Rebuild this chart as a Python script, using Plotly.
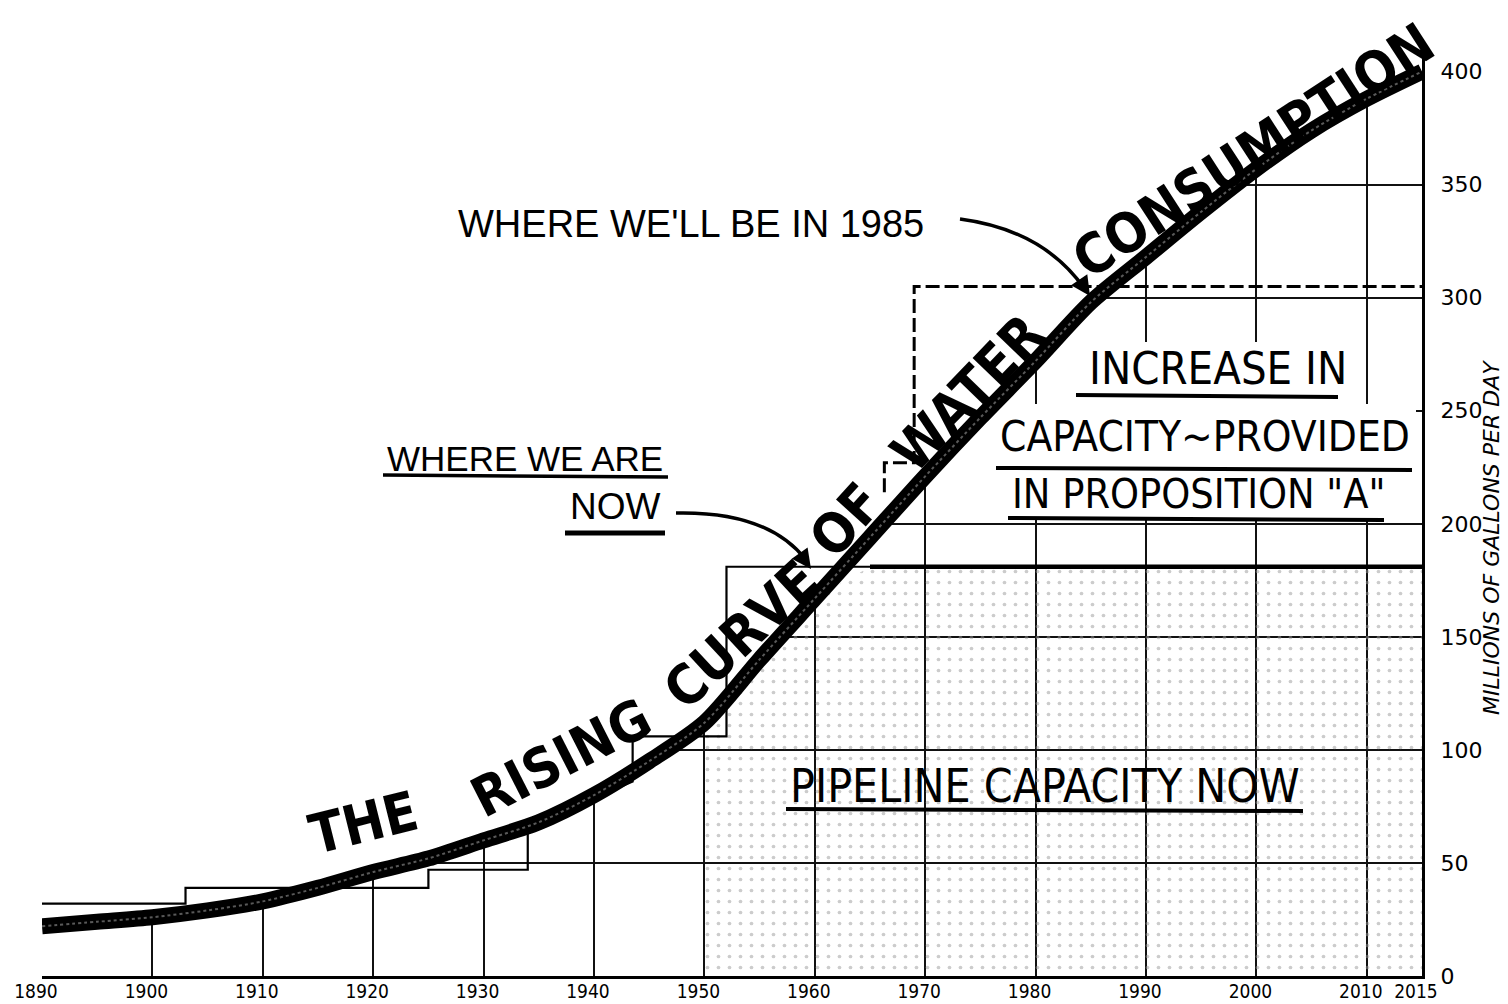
import numpy as np
import plotly.graph_objects as go

# ---------------- data ----------------
years = [1890, 1895, 1900, 1905, 1910, 1915, 1920, 1925, 1930, 1935, 1940, 1945,
         1950, 1955, 1960, 1965, 1970, 1975, 1980, 1985, 1990, 1995, 2000, 2005,
         2010, 2015]
consumption = [22, 24, 26, 29, 33, 39, 46, 52, 60, 68, 80, 95,
               112, 140, 167, 194, 221, 247, 272, 298, 318, 338, 357, 374,
               388, 400]

# historical pipeline capacity (stepped)
capacity_years = [1890, 1903, 1903, 1925, 1925, 1934, 1934, 1943.5, 1943.5, 1952, 1952, 1965]
capacity_values = [32, 32, 39, 39, 47, 47, 66, 86, 106, 106, 181, 181]

# present pipeline capacity
pipeline_now_years = [1965, 2015]
pipeline_now_values = [181, 181]

# capacity with Proposition "A"
prop_a_years = [1966.3, 1966.3, 1969.0, 1969.0, 2015]
prop_a_values = [214, 227, 227, 305, 305]

x_tick_years = [1890, 1900, 1910, 1920, 1930, 1940, 1950, 1960, 1970, 1980,
                1990, 2000, 2010, 2015]
x_tick_labels = [str(v) for v in x_tick_years]
y_tick_values = [0, 50, 100, 150, 200, 250, 300, 350, 400]

# ---------------- geometry helpers ----------------
W, H = 1508, 1004
L, R, T, B = 34, 94, 41, 36
X0, X1 = 1890, 2015
Y0, Y1 = 0, 410


def X(px):
    return X0 + (px - L) * (X1 - X0) / (W - L - R)


def Y(py):
    return Y1 - (py - T) * (Y1 - Y0) / (H - T - B)


COND = "DejaVu Sans Condensed, Liberation Sans Narrow, Roboto Condensed, sans-serif"
REG = "Liberation Sans, Arial, DejaVu Sans, sans-serif"

fig = go.Figure()

# stipple: present pipeline capacity area below the curve
yrs = np.array(years, dtype=float)
cons = np.array(consumption, dtype=float)
mask = yrs >= 1950
fig.add_trace(go.Scatter(
    x=yrs[mask], y=np.minimum(cons[mask], pipeline_now_values[0]),
    mode="lines", line=dict(width=0), fill="tozeroy",
    fillcolor="rgba(0,0,0,0)",
    fillpattern=dict(shape=".", fgcolor="#9a9a9a", bgcolor="rgba(255,255,255,0)",
                     size=11, solidity=0.09),
    hoverinfo="skip", showlegend=False))

# white mask above the curve: the grid only shows beneath the curve
fig.add_trace(go.Scatter(
    x=list(years) + [X1, X0], y=list(consumption) + [Y1 + 5, Y1 + 5],
    mode="lines", line=dict(width=0), fill="toself", fillcolor="white",
    hoverinfo="skip", showlegend=False))

# historical capacity steps
fig.add_trace(go.Scatter(
    x=capacity_years, y=capacity_values, mode="lines",
    line=dict(color="black", width=2.2), hoverinfo="skip", showlegend=False))

# pipeline capacity now
fig.add_trace(go.Scatter(
    x=pipeline_now_years, y=pipeline_now_values, mode="lines",
    line=dict(color="black", width=4.5), hoverinfo="skip", showlegend=False))

# proposition A capacity (dashed)
fig.add_trace(go.Scatter(
    x=prop_a_years, y=prop_a_values, mode="lines",
    line=dict(color="black", width=3, dash="14px,5px"), hoverinfo="skip", showlegend=False))

# the rising curve
fig.add_trace(go.Scatter(
    x=years, y=consumption, mode="lines", line_shape="spline",
    line=dict(color="black", width=16, smoothing=0.8), hoverinfo="skip", showlegend=False))
fig.add_trace(go.Scatter(
    x=years, y=consumption, mode="lines", line_shape="spline",
    line=dict(color="rgba(255,255,255,0.35)", width=2, dash="dot", smoothing=0.8),
    hoverinfo="skip", showlegend=False))

annotations = []

# big curved title, word by word along the curve
big_words = [("THE", 355, 815, -14), ("RISING", 553, 750, -27), ("CURVE", 733, 627, -43),
             ("OF", 838, 512, -48), ("WATER", 960, 385, -46), ("CONSUMPTION", 1245, 143, -33)]
for word, px, py, ang in big_words:
    annotations.append(dict(
        x=X(px), y=Y(py), xref="x", yref="y", text="<b>" + word + "</b>",
        showarrow=False, textangle=ang, xanchor="center", yanchor="middle",
        font=dict(family=COND, size=55, color="black")))

# labels
annotations += [
    dict(x=X(683), y=Y(216), xref="x", yref="y", text="WHERE WE'LL BE IN 1985",
         showarrow=False, xanchor="center", yanchor="middle",
         font=dict(family=REG, size=38, color="black")),
    dict(x=X(657), y=Y(450), xref="x", yref="y", text="WHERE WE ARE",
         showarrow=False, xanchor="right", yanchor="middle",
         font=dict(family=REG, size=35, color="black")),
    dict(x=X(655), y=Y(498), xref="x", yref="y", text="NOW",
         showarrow=False, xanchor="right", yanchor="middle",
         font=dict(family=REG, size=37, color="black")),
    dict(x=X(1210), y=Y(360), xref="x", yref="y", text="INCREASE IN",
         showarrow=False, xanchor="center", yanchor="middle",
         font=dict(family=COND, size=45, color="black")),
    dict(x=X(1197), y=Y(428), xref="x", yref="y", text="CAPACITY~PROVIDED",
         showarrow=False, xanchor="center", yanchor="middle",
         font=dict(family=COND, size=42, color="black")),
    dict(x=X(1190), y=Y(486), xref="x", yref="y", text="IN PROPOSITION \"A\"",
         showarrow=False, xanchor="center", yanchor="middle",
         font=dict(family=COND, size=41, color="black")),
    dict(x=X(1037), y=Y(778), xref="x", yref="y", text="PIPELINE CAPACITY NOW",
         showarrow=False, xanchor="center", yanchor="middle",
         font=dict(family=COND, size=46, color="black")),
    dict(x=(1483 - L) / (W - L - R), y=Y(530), xref="paper", yref="y",
         text="<i>MILLIONS OF GALLONS PER DAY</i>", showarrow=False, textangle=-90,
         xanchor="center", yanchor="middle",
         font=dict(family="DejaVu Sans, sans-serif", size=22, color="black")),
    # arrowheads
    dict(x=X(803), y=Y(561), xref="x", yref="y", text="", showarrow=True,
         ax=-10, ay=-14, arrowhead=2, arrowsize=1.3, arrowwidth=3, arrowcolor="black",
         standoff=0),
    dict(x=X(1082), y=Y(288), xref="x", yref="y", text="", showarrow=True,
         ax=-8, ay=-12, arrowhead=2, arrowsize=1.3, arrowwidth=3, arrowcolor="black",
         standoff=0),
]

shapes = []


def blank(x0, y0, x1, y1):
    # white patch behind the lettering: hides the grid there, not the data
    shapes.append(dict(type="rect", xref="x", yref="y", x0=X(x0), y0=Y(y0),
                       x1=X(x1), y1=Y(y1), fillcolor="white",
                       line=dict(width=0), layer="between"))


blank(1080, 334, 1346, 396)
blank(986, 396, 1408, 463)
blank(996, 463, 1382, 512)


def underline(x0, y0, x1, y1, w):
    shapes.append(dict(type="line", xref="x", yref="y", x0=X(x0), y0=Y(y0),
                       x1=X(x1), y1=Y(y1), line=dict(color="black", width=w),
                       layer="above"))


underline(375, 467, 660, 469, 3.5)
underline(557, 525, 657, 525, 5)
underline(1068, 387, 1330, 389, 4)
underline(988, 460, 1404, 462, 4)
underline(1000, 510, 1376, 512, 4)
underline(778, 801, 1295, 803, 4)


def curve_path(p0, c, p1):
    return "M {:.4f},{:.4f} Q {:.4f},{:.4f} {:.4f},{:.4f}".format(
        X(p0[0]), Y(p0[1]), X(c[0]), Y(c[1]), X(p1[0]), Y(p1[1]))


shapes.append(dict(type="path", xref="x", yref="y", layer="above",
                   path=curve_path((668, 505), (760, 503), (798, 552)),
                   line=dict(color="black", width=3.5)))
shapes.append(dict(type="path", xref="x", yref="y", layer="above",
                   path=curve_path((952, 211), (1035, 222), (1076, 280)),
                   line=dict(color="black", width=3.5)))

fig.update_layout(
    width=W, height=H,
    margin=dict(l=L, r=R, t=T, b=B, autoexpand=False),
    paper_bgcolor="white", plot_bgcolor="white",
    showlegend=False,
    annotations=annotations, shapes=shapes,
    xaxis=dict(range=[X0, X1], tickvals=x_tick_years, ticktext=x_tick_labels,
               showgrid=True, gridcolor="#111111", gridwidth=2,
               zeroline=False, showline=True, linecolor="black", linewidth=3,
               ticks="", ticklen=0, ticklabelstandoff=-4, ticklabelshift=-6,
               tickfont=dict(family=COND, size=19, color="black"),
               fixedrange=True),
    yaxis=dict(range=[Y0, Y1], side="right", tickvals=y_tick_values,
               showgrid=True, gridcolor="#111111", gridwidth=2,
               zeroline=False, showline=True, linecolor="black", linewidth=3,
               ticks="outside", ticklen=11, tickcolor="rgba(0,0,0,0)",
               tickfont=dict(family="DejaVu Sans, sans-serif", size=22, color="black"),
               fixedrange=True),
)

fig.write_html("out.html")
